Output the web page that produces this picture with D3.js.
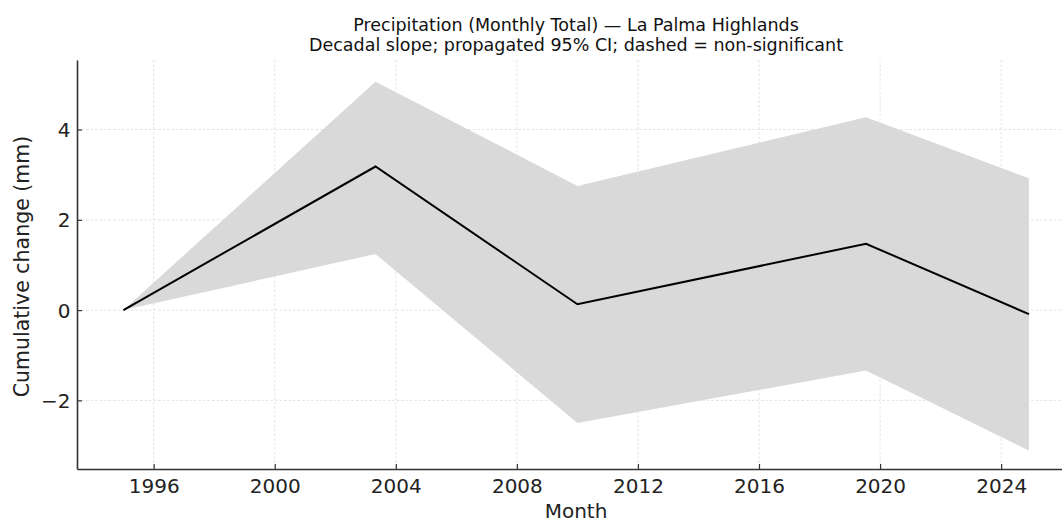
<!DOCTYPE html>
<html>
<head>
<meta charset="utf-8">
<script src="https://cdn.jsdelivr.net/npm/d3@7"></script>
<style>
  body { margin: 0; background: #fff; }
  svg { font-family: "DejaVu Sans", sans-serif; display: block; }
</style>
</head>
<body>
<div id="chart"></div>
<script>
// Data
var dates = ["1995-01-01", "2003-05-01", "2010-01-01", "2019-07-15", "2024-12-01"];
var cumChange = [0, 3.18, 0.13, 1.47, -0.09];
var ciUpper = [0, 5.06, 2.75, 4.27, 2.92];
var ciLower = [0, 1.24, -2.50, -1.34, -3.11];
var yTicks = [-2, 0, 2, 4];
var xTickYears = [1996, 2000, 2004, 2008, 2012, 2016, 2020, 2024];

var titleLines = ["Precipitation (Monthly Total) \u2014 La Palma Highlands",
                  "Decadal slope; propagated 95% CI; dashed = non-significant"];

// Sizing
var width = 1062;
var height = 519;
var margin = { left: 77, top: 60, right: -13, bottom: 50 };

var parse = d3.timeParse("%Y-%m-%d");
var data = dates.map(function (d, i) {
    return { date: parse(d), v: cumChange[i], lo: ciLower[i], hi: ciUpper[i] };
});

var svg = d3.select("#chart").append("svg")
    .attr("width", width)
    .attr("height", height);

var x = d3.scaleTime()
    .domain([new Date(1993, 5, 20), new Date(2026, 5, 10)])
    .range([margin.left, width - margin.right]);

var y = d3.scaleLinear()
    .domain([-3.52, 5.54])
    .range([469, margin.top]);

var plotBottom = y.range()[0];
var plotTop = y.range()[1];
var xTicks = xTickYears.map(function (yr) { return new Date(yr, 0, 1); });

// Grid
var grid = svg.append("g").attr("class", "grid");
grid.selectAll(".gx").data(xTicks).enter().append("line")
    .attr("x1", d => x(d)).attr("x2", d => x(d))
    .attr("y1", plotTop).attr("y2", plotBottom)
    .attr("stroke", "#dcdcdc").attr("stroke-width", 0.8)
    .attr("stroke-dasharray", "2.5,2");
grid.selectAll(".gy").data(yTicks).enter().append("line")
    .attr("x1", margin.left).attr("x2", width)
    .attr("y1", d => y(d)).attr("y2", d => y(d))
    .attr("stroke", "#dcdcdc").attr("stroke-width", 0.8)
    .attr("stroke-dasharray", "2.5,2");

// CI band
var area = d3.area()
    .x(d => x(d.date))
    .y0(d => y(d.lo))
    .y1(d => y(d.hi));

svg.append("path")
    .datum(data)
    .attr("d", area)
    .attr("fill", "#d9d9d9");

// Line
var line = d3.line()
    .x(d => x(d.date))
    .y(d => y(d.v));

svg.append("path")
    .datum(data)
    .attr("d", line)
    .attr("fill", "none")
    .attr("stroke", "#000")
    .attr("stroke-width", 2);

// Axes
var xAxis = svg.append("g")
    .attr("transform", "translate(0," + plotBottom + ")")
    .call(d3.axisBottom(x).tickValues(xTicks).tickFormat(d3.timeFormat("%Y"))
        .tickSizeInner(-5).tickSizeOuter(0).tickPadding(9.5));

var yAxis = svg.append("g")
    .attr("transform", "translate(" + margin.left + ",0)")
    .call(d3.axisLeft(y).tickValues(yTicks).tickFormat(d => d < 0 ? "\u2212" + Math.abs(d) : d)
        .tickSizeInner(-5).tickSizeOuter(0).tickPadding(6.5));

[xAxis, yAxis].forEach(function (g) {
    g.select(".domain").attr("stroke", "#333").attr("stroke-width", 1.6);
    g.selectAll(".tick line").attr("stroke", "#333").attr("stroke-width", 1.2);
    g.selectAll(".tick text")
        .attr("fill", "#222")
        .style("font-size", "20px")
        .style("font-family", "DejaVu Sans, sans-serif");
});
yAxis.selectAll(".tick text").attr("dy", "0.35em");

// Labels
var cx = (margin.left + width - margin.right) / 2;

svg.append("text")
    .attr("x", cx).attr("y", 518)
    .attr("text-anchor", "middle")
    .style("font-size", "20px")
    .attr("fill", "#222")
    .text("Month");

svg.append("text")
    .attr("transform", "translate(29," + ((plotTop + plotBottom) / 2 + 2) + ") rotate(-90)")
    .attr("text-anchor", "middle")
    .style("font-size", "20.5px")
    .attr("fill", "#222")
    .text("Cumulative change (mm)");

svg.selectAll(".title").data(titleLines).enter().append("text")
    .attr("class", "title")
    .attr("x", cx)
    .attr("y", (d, i) => 31 + i * 19.5)
    .attr("text-anchor", "middle")
    .style("font-size", "17.5px")
    .attr("fill", "#111")
    .text(d => d);
</script>
</body>
</html>
